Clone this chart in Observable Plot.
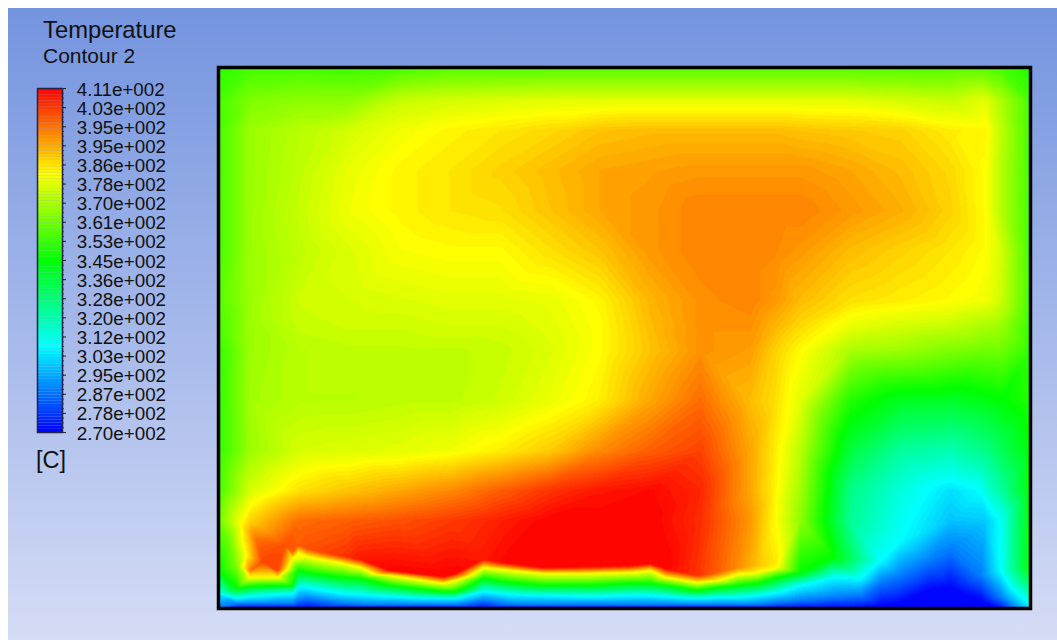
<!DOCTYPE html>
<html>
<head>
<meta charset="utf-8">
<script src="https://cdn.jsdelivr.net/npm/d3@7"></script>
<script src="https://cdn.jsdelivr.net/npm/@observablehq/plot@0.6"></script>
<style>
  html,body{margin:0;padding:0;background:#fff;overflow:hidden;}
  #page{position:absolute;left:8px;top:8px;width:1049px;height:632px;background:linear-gradient(to bottom,#7494df 0%,#d5dcf5 100%);}
  #root{position:absolute;left:0;top:0;width:1057px;height:640px;font-family:"Liberation Sans",Arial,sans-serif;color:#111;}
  #root svg{position:absolute;left:0;top:0;}
  .t{position:absolute;white-space:nowrap;line-height:1;}
</style>
</head>
<body>
<div id="page"></div>
<div id="root">
  <div class="t" style="left:43px;top:18px;font-size:23.8px;">Temperature</div>
  <div class="t" style="left:43px;top:45px;font-size:21px;">Contour 2</div>
  <div class="t" style="left:36px;top:449px;font-size:23.5px;">[C]</div>
</div>
<script>
const n = null;

// Legend
const tickLabels = ["4.11e+002","4.03e+002","3.95e+002","3.95e+002","3.86e+002","3.78e+002","3.70e+002","3.61e+002","3.53e+002","3.45e+002","3.36e+002","3.28e+002","3.20e+002","3.12e+002","3.03e+002","2.95e+002","2.87e+002","2.78e+002","2.70e+002"];
const tempMin = 270, tempMax = 411;
const rainbow = ["#0000ff","#00ffff","#00ff00","#ffff00","#ff0000"];

// Interior field: columns and rows of the sampled temperature
const xs = [218,250,300,350,400,450,500,550,600,650,700,750,775,800,850,900,950,985,1000,1030];
const ys = [67,100,130,170,210,250,300,325,350,400,450,490,520];
const row067 = [346,350,350,349,350,352,352,352,352,352,352,352,352,352,352,352,352,352,350,345];
const row100 = [350,358,360,360,368,370,371,372,372,372,372,372,372,372,372,370,368,372,365,350];
const row130 = [350,362,366,370,374,377,379,381,384,385,385,385,385,384,383,382,378,377,367,350];
const row170 = [350,362,367,373,377,379,382,385,388,389,390,390,390,390,388,385,381,376,366,350];
const row210 = [350,362,368,374,377,379,380,384,388,390,393,393,393,393,390,387,382,376,366,350];
const row250 = [350,362,367,371,375,376,376,380,384,390,393,393,392,390,385,382,379,376,370,350];
const row300 = [352,362,369,370,371,372,372,373,377,386,391,393,390,385,380,378,376,374,369,350];
const row325 = [350,362,368,369,369,370,370,372,376,385,391,391,386,381,373,370,368,364,362,348];
const row350 = [347,362,366,367,367,367,368,371,376,384,391,389,382,376,364,362,358,356,356,347];
const row400 = [347,363,366,366,367,367,369,373,378,388,396,385,380,372,345,336,335,338,340,345];
const row450 = [347,362,370,371,372,374,378,383,392,398,402,388,378,366,332,319,316,322,328,340];
const row490 = [350,370,380,384,388,392,398,404,408,410,406,388,377,363,322,310,301,310,318,340];
const row520 = [355,382,396,398,400,403,407,411,411,411,405,390,376,360,320,307,297,298,306,340];
const rows = [row067,row100,row130,row170,row210,row250,row300,row325,row350,row400,row450,row490,row520];

// Lower wall: where each temperature level sits along the floor
const wallX   = [218,236,250,277,292,298,306,343,360,390,443,455,483,510,543,590,630,650,665,697,717,737,757,777,800,833,860,880,900,930,950,980,1000,1030];
const warmY   = [n,n,570,570,552,545,548,556,559,570,576,573,559,563,567,566,565,563,568,575,572,567,565,561,n,n,n,n,n,n,n,n,n,n];
const warmT   = [n,n,395,402,398,398,400,404,408,411,411,411,408,411,411,411,411,411,411,404,398,392,384,378,n,n,n,n,n,n,n,n,n,n];
const yellowY = [n,n,577,577,558,552,556,563,567,575,583,580,567,570,573,573,572,570,577,582,580,574,572,567,n,n,n,n,n,n,n,n,n,n];
const greenY  = [570,588,586,585,585,570,572,577,578,585,591,591,578,582,585,585,583,583,585,590,587,585,583,577,572,557,n,n,n,n,n,n,n,567];
const cyanY   = [593,598,596,594,593,587,587,593,594,596,598,598,591,594,595,596,595,595,596,598,597,597,595,592,585,577,578,560,540,486,480,490,570,605];
const azureY  = [n,603,603,603,603,600,598,603,604,604,604,604,600,604,604,604,604,604,604,604,604,604,604,602,600,597,595,582,575,560,550,575,597,n];
const deepY   = [n,n,n,n,n,n,n,n,n,n,n,n,n,n,n,n,n,n,n,n,n,n,n,n,n,n,n,606,603,590,588,600,n,n];
const floorT  = [285,272,270,270,270,270,270,270,270,270,270,270,270,270,270,270,270,270,270,270,270,270,270,270,270,270,270,270,270,270,270,270,272,288];

// Extra samples along the lower left wall
const sideX = [240,245,256,228,236,262,285];
const sideY = [522,555,540,540,565,562,545];
const sideT = [375,375,396,355,358,402,400];

const levels = {yellow:375.75, green:340.5, cyan:305.25, azure:287, deep:270};

const field = [];
ys.forEach((y,r)=>xs.forEach((x,c)=>field.push({x,y,T:rows[r][c]})));
wallX.forEach((x,i)=>{
  if (warmY[i]!==n) field.push({x,y:warmY[i],T:warmT[i]});
  if (yellowY[i]!==n) field.push({x,y:yellowY[i],T:levels.yellow});
  if (greenY[i]!==n) field.push({x,y:greenY[i],T:levels.green});
  if (cyanY[i]!==n) field.push({x,y:cyanY[i],T:levels.cyan});
  if (azureY[i]!==n) field.push({x,y:azureY[i],T:levels.azure});
  if (deepY[i]!==n) field.push({x,y:deepY[i],T:levels.deep});
  field.push({x,y:608,T:floorT[i]});
});
sideX.forEach((x,i)=>field.push({x,y:sideY[i],T:sideT[i]}));

// Banded colour scale, as in the solver's contour plot
const bandCount = 110;
const bandStep = (tempMax-tempMin)/bandCount;
const bandEdges = d3.range(1,bandCount).map(i=>tempMin+i*bandStep);
const ramp = d3.piecewise(d3.interpolateRgb, rainbow);
const bandColors = d3.range(bandCount).map(i=>ramp((i+0.5)/bandCount));
const color = {type:"threshold",domain:bandEdges,range:bandColors};

const main = Plot.plot({
  width:1057,height:640,
  marginLeft:218,marginRight:27,marginTop:67,marginBottom:32,
  style:{background:"transparent"},
  x:{domain:[218,1030],axis:null},
  y:{domain:[608,67],axis:null},
  color,
  marks:[
    Plot.raster(field,{x:"x",y:"y",fill:"T",interpolate:"barycentric",pixelSize:1}),
    Plot.frame({stroke:"#000",strokeWidth:3.5})
  ]
});

const labelStep = (tempMax-tempMin)/(tickLabels.length-1);
const labelled = tickLabels.map((label,i)=>({label,v:tempMax-i*labelStep}));
const bands = d3.range(bandCount).map(i=>({a:tempMin+i*bandStep,b:tempMin+(i+1)*bandStep}));
const minor = d3.range(0,(tickLabels.length-1)*4+1).map(i=>tempMin+i*labelStep/4);

const legend = Plot.plot({
  width:210,height:480,
  marginLeft:37,marginRight:148,marginTop:88,marginBottom:48,
  style:{background:"transparent",overflow:"visible"},
  x:{domain:[0,1],axis:null},
  y:{domain:[tempMin,tempMax],axis:null},
  color,
  marks:[
    Plot.rect(bands,{x1:0,x2:1,y1:"a",y2:"b",fill:d=>(d.a+d.b)/2,inset:0}),
    Plot.ruleY(minor,{x1:1,x2:1.07,stroke:"#222",strokeWidth:1}),
    Plot.ruleY(labelled,{y:"v",x1:1,x2:1.16,stroke:"#222",strokeWidth:1}),
    Plot.frame({stroke:"#22224a",strokeWidth:1.5}),
    Plot.text(labelled,{x:1.57,y:"v",dy:1,text:"label",textAnchor:"start",fontSize:18.8,fill:"#111",fontFamily:"Liberation Sans"})
  ]
});

const root = document.getElementById("root");
root.prepend(legend);
root.prepend(main);
</script>
</body>
</html>
